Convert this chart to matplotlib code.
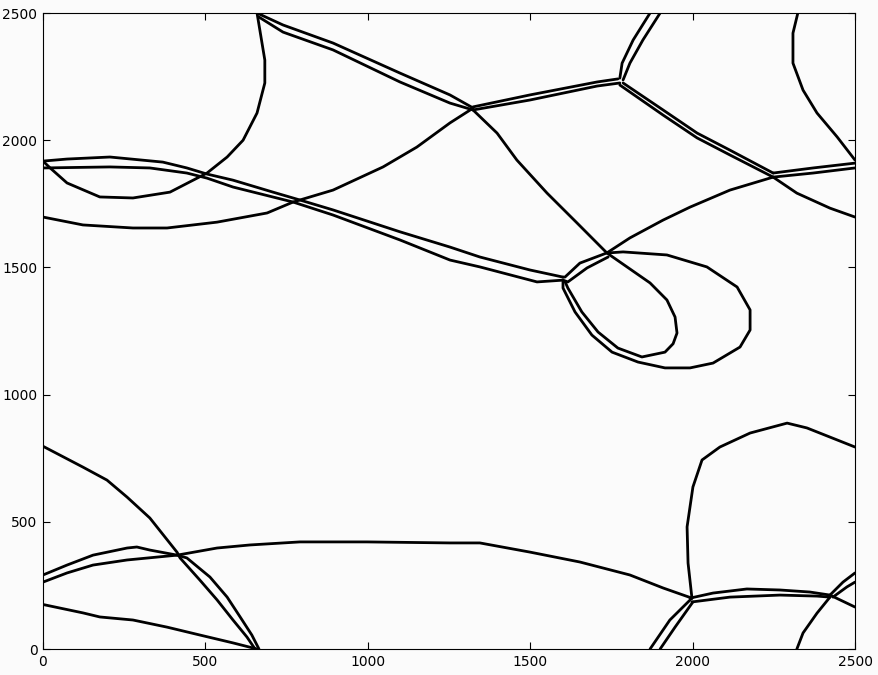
import matplotlib.pyplot as plt
import numpy as np

# curves, data units (x, y)
# top-left region
curve_a = [(659, 2500), (683, 2315), (683, 2225), (659, 2107), (616, 2000), (567, 1934),
           (505, 1871), (391, 1796), (277, 1773), (175, 1777), (74, 1832), (22, 1891), (0, 1918)]
upper_b = [(0, 1918), (74, 1926), (206, 1934), (369, 1914), (443, 1891), (505, 1867),
           (585, 1843), (708, 1796), (791, 1765), (893, 1726), (1099, 1640), (1253, 1580),
           (1345, 1541), (1499, 1490), (1601, 1462)]
middle_b = [(0, 1891), (206, 1895), (329, 1891), (443, 1871), (505, 1851), (585, 1816),
            (770, 1757), (893, 1706), (1099, 1608), (1253, 1529), (1345, 1502), (1521, 1443),
            (1601, 1450)]
lower_c = [(0, 1698), (123, 1667), (277, 1655), (382, 1655), (536, 1678), (690, 1714),
           (770, 1757), (893, 1804), (1047, 1895), (1151, 1973), (1253, 2068), (1324, 2126)]

# double lines around the upper junctions
top_j1_a = [(659, 2500), (739, 2453), (893, 2382), (1099, 2264), (1253, 2178), (1324, 2127)]
top_j1_b = [(665, 2484), (739, 2425), (893, 2355), (1099, 2229), (1253, 2146), (1324, 2119)]
j1_j2_a = [(1324, 2131), (1499, 2178), (1706, 2229), (1770, 2241)]
j1_j2_b = [(1324, 2119), (1499, 2158), (1706, 2213), (1776, 2225)]
j2_top_a = [(1776, 2244), (1783, 2303), (1817, 2394), (1869, 2500)]
j2_top_b = [(1786, 2237), (1807, 2303), (1847, 2394), (1900, 2500)]
j2_j3_a = [(1786, 2225), (1909, 2119), (2014, 2028), (2115, 1961), (2248, 1871)]
j2_j3_b = [(1776, 2217), (1909, 2099), (2014, 2009), (2115, 1942), (2248, 1855)]
j3_edge_a = [(2248, 1871), (2371, 1891), (2500, 1910)]
j3_edge_b = [(2248, 1855), (2371, 1871), (2500, 1891)]
j3_down = [(2248, 1855), (2321, 1792), (2423, 1733), (2500, 1698)]
right_top = [(2324, 2500), (2309, 2421), (2309, 2303), (2340, 2197), (2383, 2107),
             (2445, 2013), (2500, 1922)]
j3_j4 = [(2248, 1855), (2115, 1804), (1992, 1737), (1909, 1686), (1807, 1616), (1736, 1557)]
j1_loop = [(1324, 2119), (1398, 2028), (1459, 1922), (1552, 1792), (1644, 1675), (1736, 1557),
           (1798, 1502), (1869, 1439), (1921, 1372), (1946, 1305), (1952, 1242), (1940, 1200),
           (1915, 1167), (1844, 1148), (1770, 1183), (1709, 1246), (1659, 1325), (1616, 1419),
           (1607, 1445)]
outer_loop = [(1740, 1557), (1786, 1561), (1921, 1549), (2044, 1502), (2137, 1423),
              (2177, 1333), (2177, 1254), (2146, 1187), (2063, 1124), (1992, 1105),
              (1915, 1105), (1832, 1128), (1752, 1167), (1690, 1234), (1638, 1325),
              (1601, 1419), (1601, 1445)]
j5_j4_a = [(1601, 1462), (1607, 1462), (1653, 1517), (1736, 1557)]
j5_j4_b = [(1601, 1450), (1616, 1443), (1675, 1498), (1740, 1541)]

# bottom-left region
curve_d = [(0, 797), (123, 715), (197, 664), (259, 597), (329, 515), (413, 380), (422, 358),
           (483, 271), (536, 193), (585, 114), (628, 47), (653, 0)]
curve_e = [(0, 291), (74, 330), (154, 369), (259, 397), (289, 401), (329, 389), (413, 369),
           (443, 358), (514, 283), (567, 204), (607, 126), (643, 55), (665, 0)]
curve_f = [(0, 263), (74, 299), (154, 330), (259, 350), (413, 369), (536, 397), (637, 409),
           (791, 421), (997, 421), (1253, 417), (1345, 417), (1499, 381), (1653, 342),
           (1807, 291), (1909, 240), (1998, 200)]
curve_g = [(0, 175), (123, 142), (175, 126), (277, 114), (382, 86), (483, 55), (585, 24),
           (659, 0)]

# bottom-right region
curve_h = [(1998, 200), (1986, 338), (1983, 480), (2001, 637), (2029, 743), (2084, 794),
           (2177, 849), (2291, 888), (2352, 869), (2500, 794)]
j6_bottom_a = [(1998, 200), (1930, 114), (1869, 0)]
j6_bottom_b = [(2001, 185), (1946, 86), (1900, 0)]
j6_j7_a = [(1992, 200), (2063, 220), (2167, 236), (2269, 232), (2361, 224), (2423, 212)]
j6_j7_b = [(1998, 185), (2115, 204), (2269, 212), (2383, 208), (2423, 204)]
j7_edge_a = [(2423, 212), (2463, 263), (2500, 299)]
j7_edge_b = [(2432, 204), (2475, 244), (2500, 263)]
j7_down = [(2423, 212), (2500, 165)]
bottom_j7 = [(2321, 0), (2340, 63), (2383, 141), (2423, 204)]

curves = [curve_a, upper_b, middle_b, lower_c, top_j1_a, top_j1_b, j1_j2_a, j1_j2_b,
          j2_top_a, j2_top_b, j2_j3_a, j2_j3_b, j3_edge_a, j3_edge_b, j3_down, right_top,
          j3_j4, j1_loop, outer_loop, j5_j4_a, j5_j4_b, curve_d, curve_e, curve_f, curve_g,
          curve_h, j6_bottom_a, j6_bottom_b, j6_j7_a, j6_j7_b, j7_edge_a, j7_edge_b,
          j7_down, bottom_j7]

ticks = [0, 500, 1000, 1500, 2000, 2500]

fig = plt.figure(figsize=(8.79, 6.75), dpi=100, facecolor="#fbfbfb")
ax = fig.add_axes([0.0489, 0.0385, 0.9238, 0.9422])
ax.set_facecolor("#fbfbfb")

for c in curves:
    pts = np.array(c)
    ax.plot(pts[:, 0], pts[:, 1], color="black", linewidth=2.0, solid_capstyle="round")

ax.set_xlim(0, 2500)
ax.set_ylim(0, 2500)
ax.set_xticks(ticks)
ax.set_yticks(ticks)
ax.tick_params(direction="in", top=True, right=True, length=5, labelsize=10, pad=4)
for s in ax.spines.values():
    s.set_linewidth(0.8)

fig.savefig("out.png", dpi=100, facecolor=fig.get_facecolor())
